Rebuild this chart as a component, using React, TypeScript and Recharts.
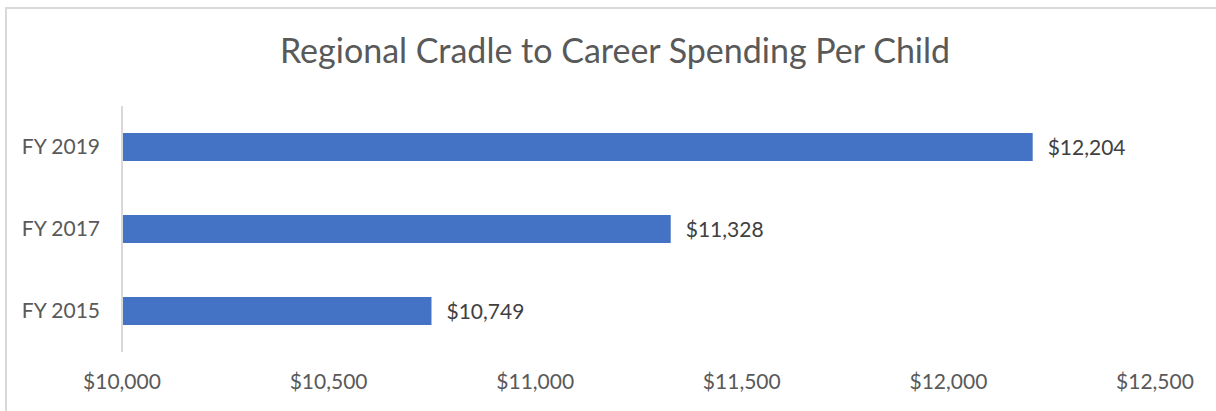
import { BarChart, Bar, XAxis, YAxis, LabelList } from 'recharts';

const TITLE = 'Regional Cradle to Career Spending Per Child';

// top-down order, as shown on the chart
const years = ['FY 2019', 'FY 2017', 'FY 2015'];
const spending = [12204, 11328, 10749];
const xTicks = [10000, 10500, 11000, 11500, 12000, 12500];

const data = years.map((year, i) => ({ year, spending: spending[i] }));

const FONT = 'Lato, "Open Sans", sans-serif';
const money = (v: number) => `$${v.toLocaleString('en-US')}`;

export default function App() {
  return (
    <div style={{ position: 'absolute', left: 0, top: 0, width: 1216, height: 411, background: '#fff', overflow: 'hidden', fontFamily: FONT }}>
      <div
        style={{
          position: 'absolute',
          left: 5,
          top: 7,
          width: 1220,
          height: 420,
          border: '2px solid #d9d9d9',
          boxSizing: 'border-box',
        }}
      />
      <div
        style={{
          position: 'absolute',
          left: 5,
          top: 29,
          width: 1220,
          textAlign: 'center',
          fontSize: 34,
          color: '#595959',
          lineHeight: '42px',
        }}
      >
        {TITLE}
      </div>
      <div style={{ position: 'absolute', left: 0, top: 0 }}>
        <BarChart
          width={1216}
          height={411}
          data={data}
          layout="vertical"
          barCategoryGap="33%"
          margin={{ top: 106, right: 61, bottom: 0, left: 22 }}
        >
          <XAxis
            type="number"
            domain={[10000, 12500]}
            ticks={xTicks}
            allowDataOverflow
            axisLine={false}
            tickLine={false}
            tickSize={0}
            tickMargin={22}
            tickFormatter={money}
            tick={{ fill: '#595959', fontSize: 21, fontFamily: FONT }}
            height={59}
          />
          <YAxis
            type="category"
            dataKey="year"
            width={100}
            axisLine={{ stroke: '#d9d9d9', strokeWidth: 2 }}
            tickLine={false}
            tickSize={0}
            tickMargin={22}
            tick={{ fill: '#595959', fontSize: 21, fontFamily: FONT }}
          />
          <Bar dataKey="spending" fill="#4472c4" isAnimationActive={false}>
            <LabelList
              dataKey="spending"
              position="right"
              offset={15}
              formatter={(v: any) => money(Number(v))}
              style={{ fill: '#404040', fontSize: 21, fontFamily: FONT }}
            />
          </Bar>
        </BarChart>
      </div>
    </div>
  );
}
